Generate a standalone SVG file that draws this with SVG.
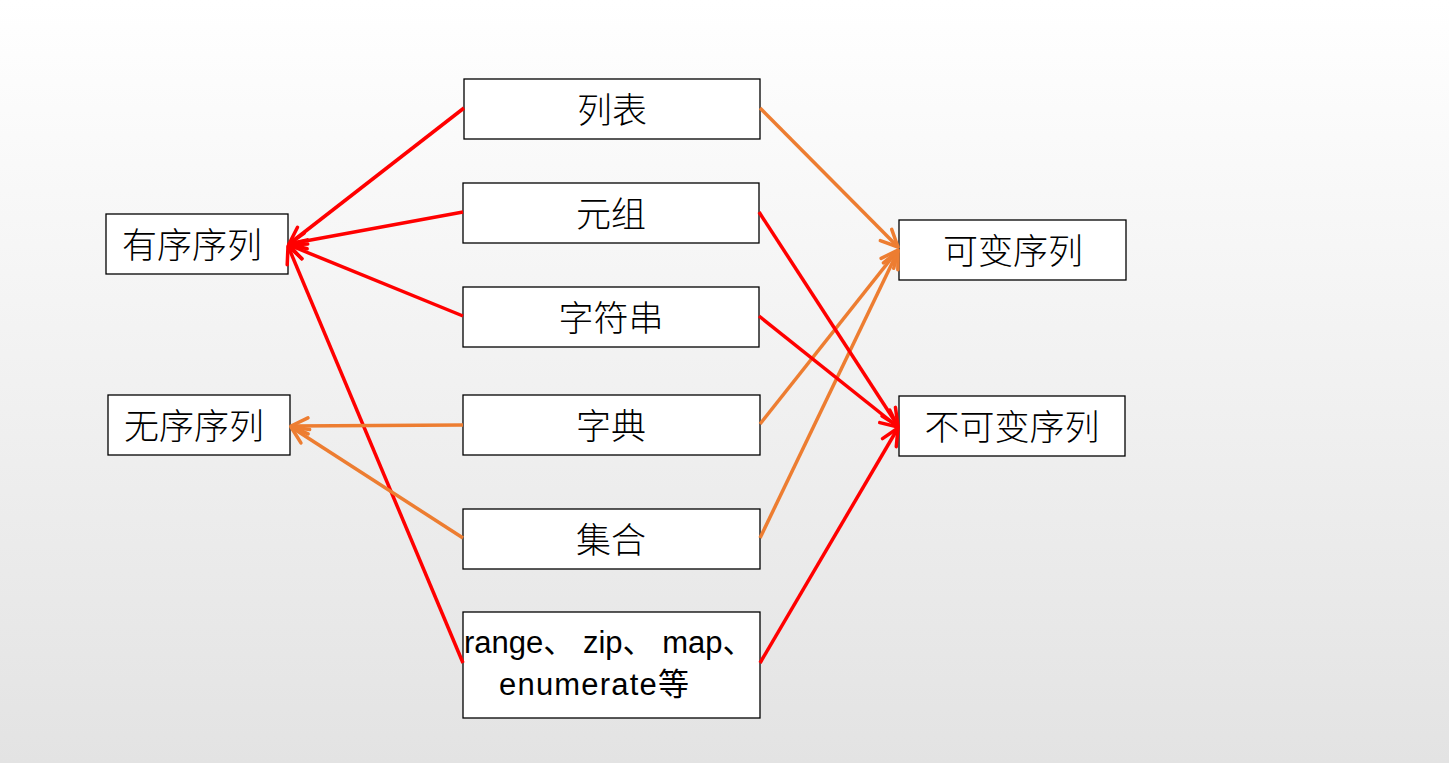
<svg xmlns="http://www.w3.org/2000/svg" width="1449" height="763" viewBox="0 0 1449 763">
<defs>
<linearGradient id="bg" x1="0" y1="0" x2="0" y2="1">
<stop offset="0" stop-color="#ffffff"/>
<stop offset="1" stop-color="#e3e3e3"/>
</linearGradient>
<marker id="ar" viewBox="0 0 22 22" refX="20" refY="11" markerWidth="22" markerHeight="22" markerUnits="userSpaceOnUse" orient="auto">
<path d="M3,3 L20,11 L3,19" fill="none" stroke="#ff0000" stroke-width="3.5" stroke-linecap="round" stroke-linejoin="round"/>
</marker>
<marker id="ao" viewBox="0 0 22 22" refX="20" refY="11" markerWidth="22" markerHeight="22" markerUnits="userSpaceOnUse" orient="auto">
<path d="M3,3 L20,11 L3,19" fill="none" stroke="#ed7d31" stroke-width="3.5" stroke-linecap="round" stroke-linejoin="round"/>
</marker>
</defs>
<style>
.box{fill:#ffffff;stroke:#000000;stroke-width:1.3}
.cjk{font-family:"Noto Sans CJK SC","Noto Sans CJK JP",sans-serif;font-size:35px;font-weight:300;fill:#000;text-anchor:middle;dominant-baseline:central}
.lat{font-family:"Liberation Sans","Noto Sans CJK SC",sans-serif;font-size:31px;fill:#000}
.r{fill:none;stroke:#ff0000;stroke-width:3.5;marker-end:url(#ar)}
.o{fill:none;stroke:#ed7d31;stroke-width:3.5;marker-end:url(#ao)}
</style>
<rect width="1449" height="763" fill="url(#bg)"/>
<g id="n-list"><rect class="box" x="464" y="79" width="296" height="60"/><text class="cjk" x="612" y="107">列表</text></g>
<g id="n-tuple"><rect class="box" x="463" y="183" width="296" height="60"/><text class="cjk" x="611" y="211">元组</text></g>
<g id="n-str"><rect class="box" x="463" y="287" width="296" height="60"/><text class="cjk" x="611" y="315">字符串</text></g>
<g id="n-dict"><rect class="box" x="463" y="395" width="297" height="60"/><text class="cjk" x="611" y="423">字典</text></g>
<g id="n-set"><rect class="box" x="463" y="509" width="297" height="60"/><text class="cjk" x="611" y="537">集合</text></g>
<g id="n-range"><rect class="box" x="463" y="612" width="297" height="106"/><text class="lat" x="464" y="653">range、 zip、 map、</text><text class="lat" x="499" y="695" letter-spacing="1.2">enumerate等</text></g>
<g id="n-ordered"><rect class="box" x="106" y="214" width="182" height="60"/><text class="cjk" x="192" y="242">有序序列</text></g>
<g id="n-unordered"><rect class="box" x="108" y="395" width="182" height="60"/><text class="cjk" x="194" y="423">无序序列</text></g>
<g id="n-mutable"><rect class="box" x="899" y="220" width="227" height="60"/><text class="cjk" x="1013" y="248">可变序列</text></g>
<g id="n-immutable"><rect class="box" x="899" y="396" width="226" height="60"/><text class="cjk" x="1012" y="424">不可变序列</text></g>
<g id="connectors">
<line class="r" x1="464" y1="108" x2="289" y2="244"/>
<line class="r" x1="463" y1="212" x2="289" y2="244"/>
<line class="r" x1="463" y1="316" x2="289" y2="245"/>
<line class="r" x1="463" y1="663" x2="288" y2="246"/>
<line class="o" x1="463" y1="425" x2="291" y2="426"/>
<line class="o" x1="463" y1="538" x2="291" y2="427"/>
<line class="o" x1="760" y1="108" x2="898" y2="247"/>
<line class="o" x1="760" y1="424" x2="898" y2="250"/>
<line class="o" x1="760" y1="538" x2="898" y2="251"/>
<line class="r" x1="759" y1="212" x2="898" y2="426"/>
<line class="r" x1="759" y1="316" x2="898" y2="427"/>
<line class="r" x1="760" y1="663" x2="898" y2="428"/>
</g>
</svg>
